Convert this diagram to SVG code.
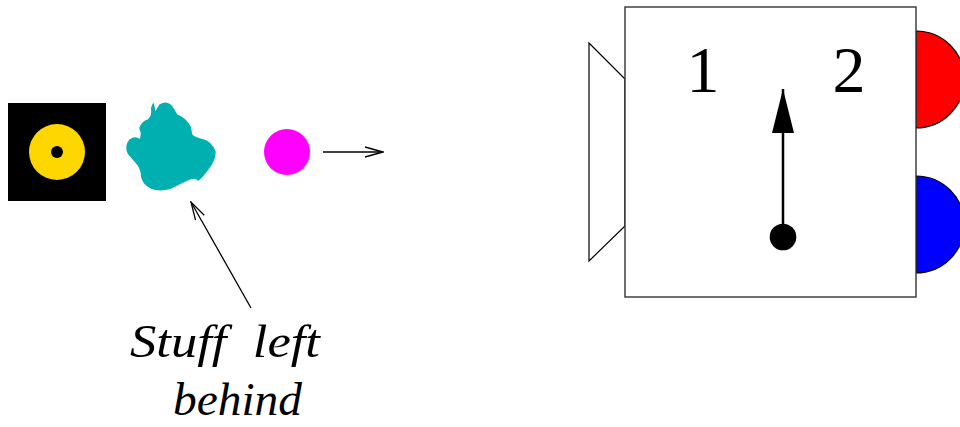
<svg xmlns="http://www.w3.org/2000/svg" width="960" height="427" viewBox="0 0 960 427">
<defs>
<style>
.lbl{font-family:"Liberation Serif","Times New Roman",serif;fill:#000}
.thin{stroke:#000;stroke-width:1.3;fill:none}
</style>
<marker id="open" viewBox="0 0 20 12" refX="19" refY="6" markerWidth="20" markerHeight="12" markerUnits="userSpaceOnUse" orient="auto">
<path d="M1,1 L19,6 L1,11" fill="none" stroke="#000" stroke-width="1.3"/>
</marker>
<marker id="solid" viewBox="0 0 44 22" refX="44" refY="11" markerWidth="44" markerHeight="22" markerUnits="userSpaceOnUse" orient="auto">
<path d="M0,0 L44,11 L0,22 Z" fill="#000"/>
</marker>
</defs>
<rect width="960" height="427" fill="#fff"/>
<g id="source">
<rect x="8" y="103" width="98" height="98" fill="#000"/>
<circle cx="57" cy="152" r="28" fill="#FFD700"/>
<circle cx="57" cy="152" r="6" fill="#000"/>
</g>
<g id="stuff">
<path d="M153.3,104 L155,113.3 L160,105 Q166.7,101 171.7,106.7 L176.7,115 Q185,118 190,126.7 L191.7,135 Q194,138 203.3,140 Q211,142 215,151.7 Q215,160 208.3,168.3 Q203,176 198.3,180 Q195,176 186.7,180 L170,188.3 Q160,191 151.7,188.3 Q143,184 141.7,176.7 Q142,171 138.3,165 L128.3,153.3 Q125,146 130,140 Q135,136 140,140 Q143,135 140,128.3 Q142,122 148.3,120 Q153,116 151.7,108.3 Z" fill="#00B0B0" stroke="#00B0B0" stroke-width="1.5" stroke-linejoin="round"/>
</g>
<g id="particle">
<circle cx="287" cy="152" r="23" fill="#FF00FF"/>
</g>
<g id="detector">
<path d="M589,43 L625,79 L625,226 L589,261 Z" fill="#fff" stroke="#000" stroke-width="1.2"/>
<path d="M916,31 A48.5,48.5 0 0 1 916,128 Z" fill="#FF0000" stroke="#000" stroke-width="1.2"/>
<path d="M916,176 A48.5,48.5 0 0 1 916,273 Z" fill="#0000FF" stroke="#000" stroke-width="1.2"/>
<rect x="625" y="7" width="291" height="290" fill="#fff" stroke="#333" stroke-width="1.4"/>
<text class="lbl" x="703" y="92" font-size="66" text-anchor="middle">1</text>
<text class="lbl" x="849" y="92" font-size="66" text-anchor="middle">2</text>
<circle cx="783" cy="237" r="13.3" fill="#000"/>
</g>
<g id="connectors">
<line x1="783" y1="237" x2="783" y2="89" stroke="#000" stroke-width="2.5" marker-end="url(#solid)"/>
<line x1="323" y1="152" x2="383" y2="152" class="thin" marker-end="url(#open)"/>
<line x1="251" y1="308" x2="191" y2="202" class="thin" marker-end="url(#open)"/>
</g>
<g id="label">
<text class="lbl" font-style="italic" font-size="46" x="130" y="357" textLength="190" lengthAdjust="spacingAndGlyphs" xml:space="preserve">Stuff  left</text>
<text class="lbl" font-style="italic" font-size="46" x="173" y="415" textLength="129" lengthAdjust="spacingAndGlyphs">behind</text>
</g>
</svg>
